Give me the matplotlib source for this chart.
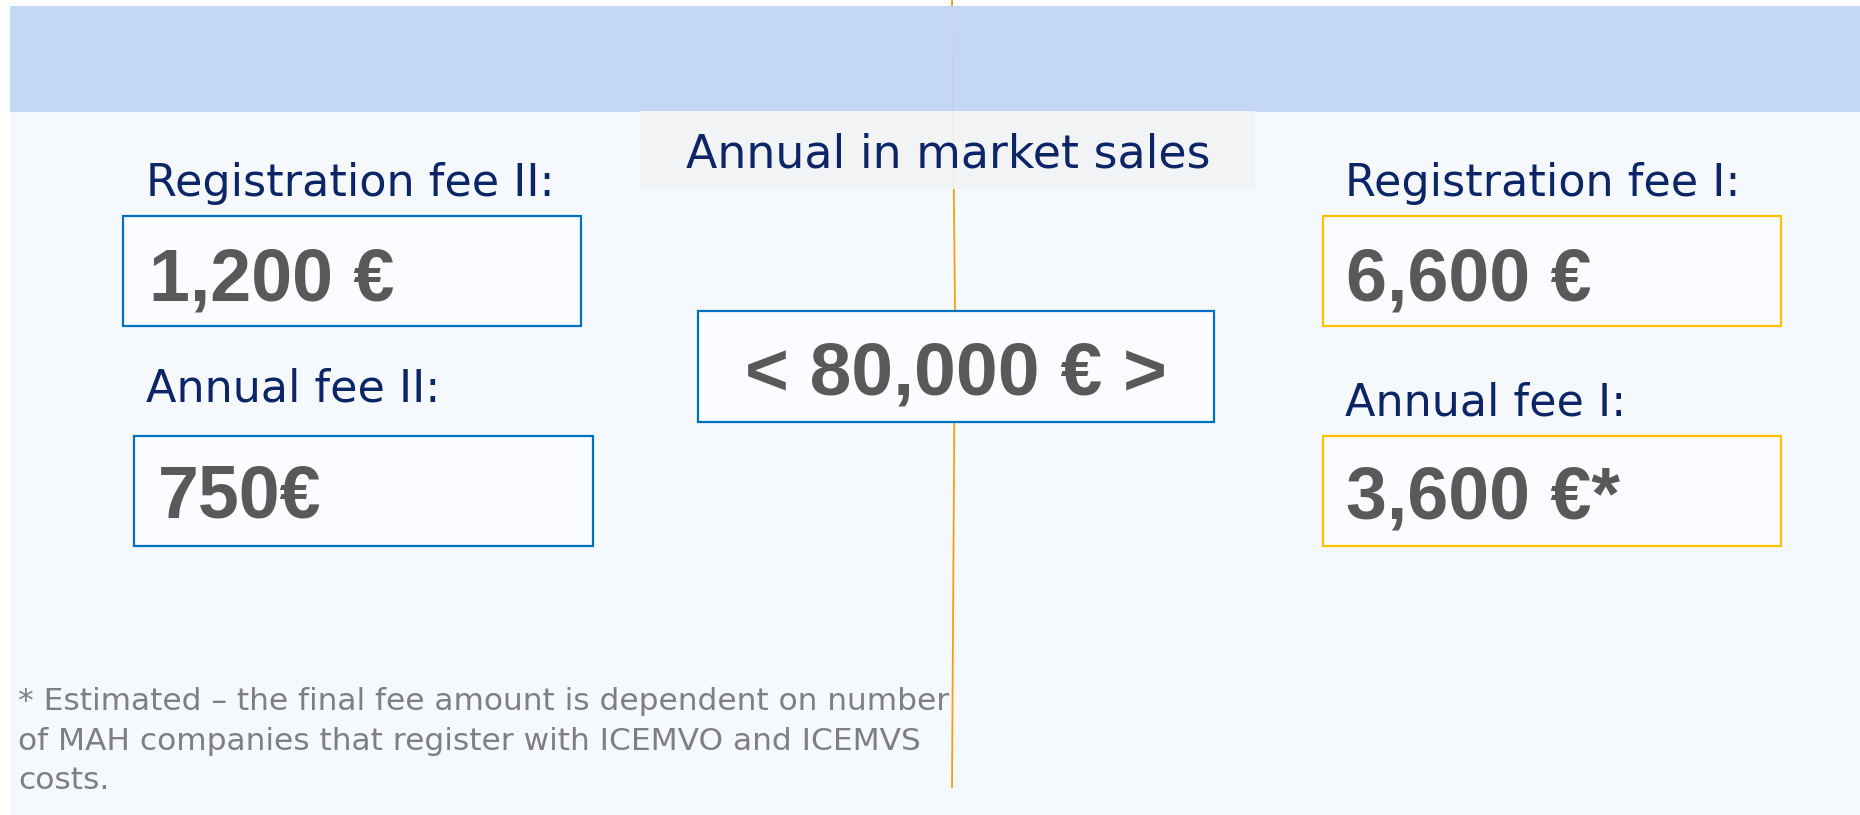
import matplotlib
matplotlib.use("Agg")
import matplotlib.pyplot as plt
from matplotlib.patches import Rectangle

# ---- content ----
header_label = "Annual in market sales"
threshold_label = "< 80,000 € >"
left_labels = ["Registration fee II:", "Annual fee II:"]
left_values = ["1,200 €", "750€"]
right_labels = ["Registration fee I:", "Annual fee I:"]
right_values = ["6,600 €", "3,600 €*"]
footnote = ["* Estimated – the final fee amount is dependent on number",
            "of MAH companies that register with ICEMVO and ICEMVS",
            "costs."]

W, H = 1860, 815
fig = plt.figure(figsize=(W / 100, H / 100), dpi=100)
ax = fig.add_axes([0, 0, 1, 1])
ax.set_xlim(0, W)
ax.set_ylim(H, 0)
ax.axis("off")

NAVY = "#0B2566"
GREY = "#595959"
BLUE = "#0070C0"
GOLD = "#FFC000"
LABEL_FONT = "DejaVu Sans"
VALUE_FONT = "Liberation Sans"

# backgrounds
ax.add_patch(Rectangle((10, 112), W - 10, H - 112, facecolor="#F5F8FD", edgecolor="none", zorder=0))
ax.plot([952, 955, 952], [0, 311, 787], color="#F2A20F", lw=1.3, zorder=1)
ax.add_patch(Rectangle((10, 6), W - 10, 106, facecolor="#C1D6F5", edgecolor="none", alpha=0.95, zorder=2))
ax.add_patch(Rectangle((640, 111), 615, 78, facecolor="#F2F3F5", edgecolor="none", alpha=0.93, zorder=2))
ax.text(948, 168, header_label, ha="center", va="baseline", fontsize=33,
        color=NAVY, family=LABEL_FONT, zorder=3)

def box(x0, y0, x1, y1, ec):
    ax.add_patch(Rectangle((x0, y0), x1 - x0, y1 - y0, facecolor="#FBFCFF",
                           edgecolor=ec, lw=1.6, zorder=3))

# center box
box(698, 311, 1214, 422, BLUE)
ax.text(956, 395, threshold_label, ha="center", va="baseline", fontsize=54,
        fontweight="bold", color=GREY, family=VALUE_FONT, zorder=4)

# left column
lbl_pos = [(146, 196), (146, 402)]
box_pos = [(123, 216, 581, 326), (134, 436, 593, 546)]
val_pos = [(149, 300), (158, 518)]
for lab, val, (lx, ly), b, (vx, vy) in zip(left_labels, left_values, lbl_pos, box_pos, val_pos):
    ax.text(lx, ly, lab, ha="left", va="baseline", fontsize=32, color=NAVY, family=LABEL_FONT, zorder=4)
    box(*b, BLUE)
    ax.text(vx, vy, val, ha="left", va="baseline", fontsize=53, fontweight="bold",
            color=GREY, family=VALUE_FONT, zorder=4)

# right column
lbl_pos = [(1345, 196), (1345, 415)]
box_pos = [(1323, 216, 1781, 326), (1323, 436, 1781, 546)]
val_pos = [(1346, 300), (1346, 519)]
for lab, val, (lx, ly), b, (vx, vy) in zip(right_labels, right_values, lbl_pos, box_pos, val_pos):
    ax.text(lx, ly, lab, ha="left", va="baseline", fontsize=32, color=NAVY, family=LABEL_FONT, zorder=4)
    box(*b, GOLD)
    ax.text(vx, vy, val, ha="left", va="baseline", fontsize=53, fontweight="bold",
            color=GREY, family=VALUE_FONT, zorder=4)

# footnote
for i, line in enumerate(footnote):
    ax.text(18, 710 + 39.5 * i, line, ha="left", va="baseline", fontsize=22.5,
            color="#7F7F7F", family=LABEL_FONT, zorder=4)

fig.savefig("out.png", dpi=100)
